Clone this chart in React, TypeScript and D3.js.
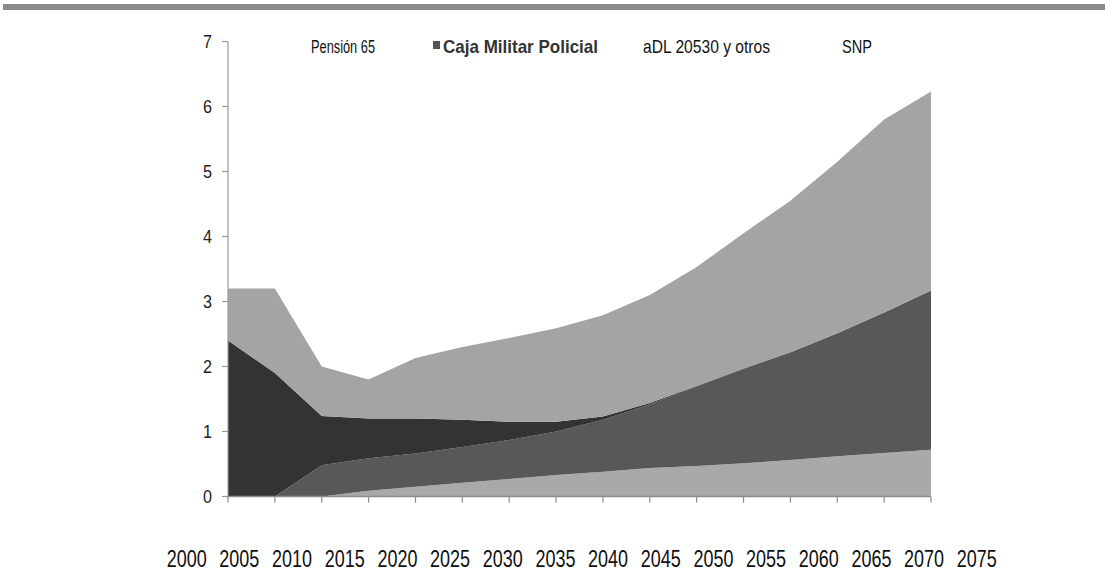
import React from "react";
import * as d3 from "d3";

const years = [2000, 2005, 2010, 2015, 2020, 2025, 2030, 2035, 2040, 2045, 2050, 2055, 2060, 2065, 2070, 2075];
const pension65 = [0, 0, 0, 0.09, 0.15, 0.21, 0.27, 0.33, 0.38, 0.44, 0.47, 0.51, 0.56, 0.62, 0.67, 0.72];
const cajaMilitar = [0, 0, 0.48, 0.5, 0.51, 0.55, 0.6, 0.67, 0.8, 0.98, 1.22, 1.45, 1.66, 1.89, 2.16, 2.45];
const dl20530 = [2.4, 1.9, 0.76, 0.61, 0.54, 0.42, 0.28, 0.15, 0.05, 0.02, 0.01, 0.01, 0, 0, 0, 0];
const snp = [0.8, 1.3, 0.76, 0.6, 0.93, 1.12, 1.29, 1.44, 1.56, 1.66, 1.83, 2.08, 2.33, 2.64, 2.97, 3.06];

const seriesKeys = ["p65", "cmp", "dl", "snp"];
const seriesColors = ["#a9a9a9", "#585858", "#333333", "#a4a4a4"];
const legendLabels = ["Pensión 65", "Caja Militar Policial", "aDL 20530 y otros", "SNP"];
const yTicks = [0, 1, 2, 3, 4, 5, 6, 7];
const xLabels = ["2000", "2005", "2010", "2015", "2020", "2025", "2030", "2035", "2040", "2045", "2050", "2055", "2060", "2065", "2070", "2075"];

const FONT = "'Liberation Sans Narrow', 'Arial Narrow', 'Liberation Sans', Arial, sans-serif";

export default function App() {
  const x = d3.scaleLinear().domain([2000, 2075]).range([228, 931]);
  const y = d3.scaleLinear().domain([0, 7]).range([496.5, 41.5]);

  const rows = years.map((yr, i) => ({ year: yr, p65: pension65[i], cmp: cajaMilitar[i], dl: dl20530[i], snp: snp[i] }));
  const stacked = d3.stack<any>().keys(seriesKeys)(rows);
  const area = d3
    .area<any>()
    .x((d) => x(d.data.year))
    .y0((d) => y(d[0]))
    .y1((d) => y(d[1]));

  const legendX = [311, 443, 643, 842];
  const legendW = [64, 155, 127, 30];

  return (
    <svg width={1105} height={580} style={{ position: "absolute", left: 0, top: 0, background: "#fff" }}>
      <rect x={3} y={4} width={1102} height={6} fill="#8a8a8a" />
      {stacked.map((s, i) => (
        <path key={i} d={area(s) || ""} fill={seriesColors[i]} />
      ))}
      {/* axes */}
      <line x1={228} x2={228} y1={y(7)} y2={y(0)} stroke="#9a9a9a" strokeWidth={1.2} />
      <line x1={228} x2={931} y1={y(0)} y2={y(0)} stroke="#8a8a8a" strokeWidth={1.5} />
      {yTicks.map((t) => (
        <g key={t}>
          <line x1={222} x2={228} y1={y(t)} y2={y(t)} stroke="#9a9a9a" strokeWidth={1.2} />
          <text
            x={203}
            y={y(t) + 6}
            fontFamily={FONT}
            fontSize={19}
            fill="#222"
            textLength={9}
            lengthAdjust="spacingAndGlyphs"
          >
            {t}
          </text>
        </g>
      ))}
      {years.map((yr) => (
        <line key={yr} x1={x(yr)} x2={x(yr)} y1={y(0)} y2={y(0) + 6} stroke="#8a8a8a" strokeWidth={1.2} />
      ))}
      {/* legend */}
      {legendLabels.map((l, i) => (
        <text
          key={l}
          x={legendX[i]}
          y={53}
          fontFamily={FONT}
          fontSize={19}
          fontWeight={i === 1 ? "bold" : "normal"}
          fill={i === 1 ? "#333" : "#111"}
          textLength={legendW[i]}
          lengthAdjust="spacingAndGlyphs"
        >
          {l}
        </text>
      ))}
      <rect x={433} y={41} width={7} height={8} fill="#555" />
      {/* x labels row */}
      {xLabels.map((l, i) => (
        <text
          key={l}
          x={166.7 + i * 52.67}
          y={567}
          fontFamily={FONT}
          fontSize={24}
          fill="#111"
          textLength={40}
          lengthAdjust="spacingAndGlyphs"
        >
          {l}
        </text>
      ))}
    </svg>
  );
}
